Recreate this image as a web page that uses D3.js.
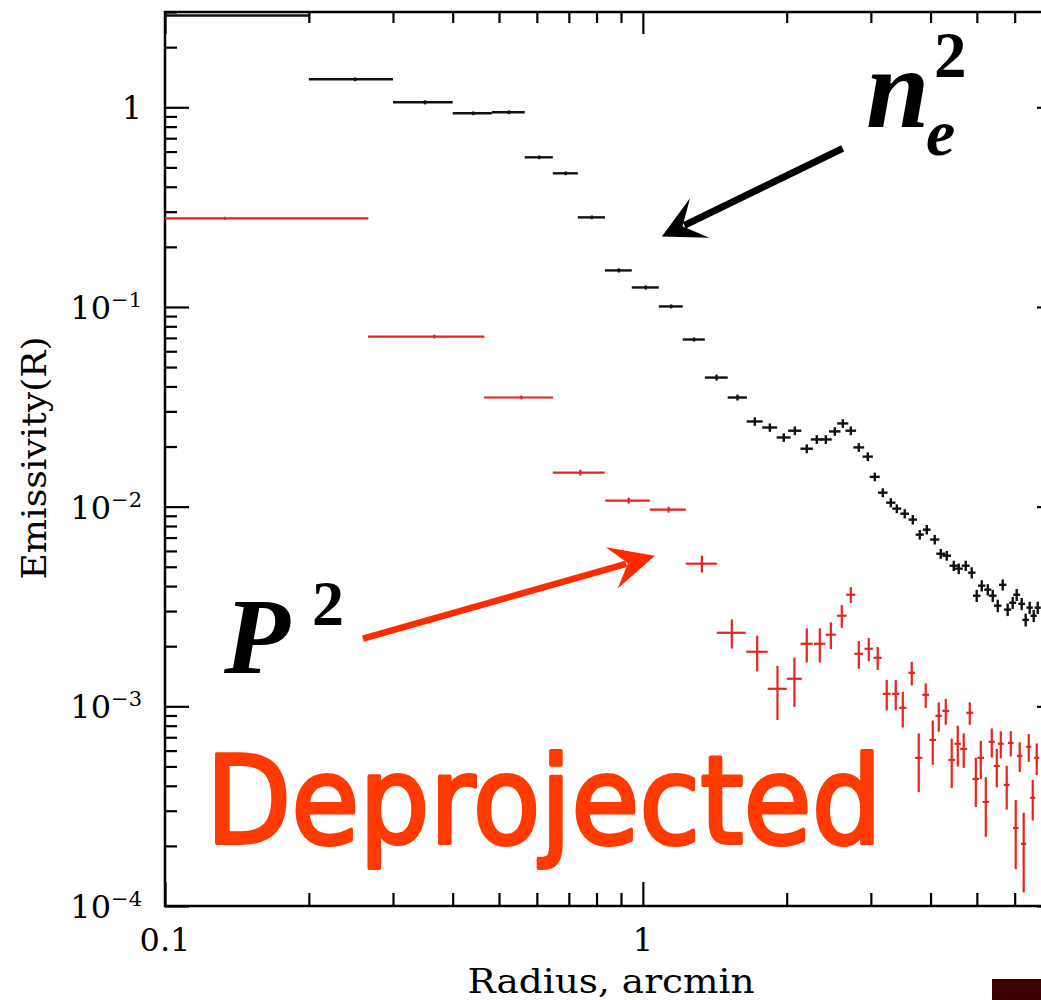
<!DOCTYPE html>
<html>
<head>
<meta charset="utf-8">
<script src="https://cdn.jsdelivr.net/npm/d3@7"></script>
<style>
  body { margin: 0; background: #fff; }
  svg { display: block; }
</style>
</head>
<body>
<svg id="chart" width="1041" height="1000"></svg>
<script>
// ---- data (radius in arcmin, emissivity) ----
// n_e^2 profile (black)
const blackX = [0.1, 0.25, 0.35, 0.4415, 0.5245, 0.607, 0.6895, 0.782, 0.8905, 1.014, 1.146, 1.28, 1.4265, 1.578,
  1.715, 1.844, 1.972, 2.080, 2.203, 2.312, 2.415, 2.522, 2.621, 2.724,
  2.831, 2.956, 3.058, 3.178, 3.303, 3.400, 3.532, 3.672, 3.798, 3.928,
  4.082, 4.202, 4.325, 4.473, 4.582, 4.739, 4.878, 4.997, 5.119, 5.270,
  5.398, 5.530, 5.664, 5.800, 5.943, 6.058, 6.206, 6.326, 6.449, 6.576, 6.704];
const blackXErr = [0.1, 0.05, 0.05, 0.0415, 0.0415, 0.041, 0.0415, 0.051, 0.0575, 0.066, 0.066, 0.068, 0.0785, 0.073,
  0.066, 0.066, 0.066, 0.066, 0.066, 0.066, 0.07, 0.07, 0.07, 0.07,
  0.074, 0.074, 0.074, 0.074, 0.074, 0.074, 0.074, 0.074, 0.074, 0.074,
  0.09, 0.09, 0.09, 0.09, 0.09, 0.09, 0.09, 0.09, 0.09, 0.09,
  0.1, 0.1, 0.1, 0.1, 0.1, 0.1, 0.1, 0.1, 0.1, 0.1, 0.1];
const blackY = [2.88, 1.381, 1.059, 0.933, 0.944, 0.5616, 0.467, 0.281, 0.1524, 0.1252, 0.1006, 0.0687, 0.0443, 0.0352,
  0.0267, 0.0249, 0.0222, 0.0240, 0.0195, 0.0217, 0.0217, 0.0238, 0.0261, 0.0240,
  0.0198, 0.0178, 0.0141, 0.01175, 0.01047, 0.00977, 0.00922, 0.00861, 0.00724, 0.00767,
  0.00684, 0.00581, 0.00568, 0.00506, 0.00489, 0.00506, 0.00467, 0.00358, 0.00402, 0.00384,
  0.00358, 0.00319, 0.00406, 0.00305, 0.00330, 0.00362, 0.00326, 0.00271, 0.00312, 0.00284, 0.00312];
const blackYErr = [0.06, 0.03, 0.025, 0.02, 0.02, 0.012, 0.01, 0.006, 0.0035, 0.003, 0.0023, 0.0016, 0.0015, 0.0012,
  0.0013, 0.0012, 0.0011, 0.0012, 0.0010, 0.0011, 0.0011, 0.0012, 0.0013, 0.0012,
  0.0010, 0.0009, 0.0007, 0.0006, 0.00055, 0.0005, 0.0005, 0.00047, 0.0004, 0.00042,
  0.00038, 0.00033, 0.00032, 0.0003, 0.0003, 0.0003, 0.0003, 0.00025, 0.00026, 0.00025,
  0.00025, 0.00023, 0.00026, 0.00022, 0.00023, 0.00025, 0.00023, 0.0002, 0.00022, 0.0002, 0.00022];

// P^2 profile (red)
const redX = [0.1335, 0.366, 0.557, 0.74, 0.934, 1.132, 1.329, 1.535, 1.735, 1.913,
  2.076, 2.203, 2.346, 2.474, 2.608, 2.724, 2.831, 2.970, 3.101, 3.239,
  3.383, 3.499, 3.654, 3.779, 3.908, 4.043, 4.161, 4.304, 4.430, 4.560,
  4.693, 4.832, 4.975, 5.096, 5.220, 5.373, 5.504, 5.611, 5.774, 5.887,
  6.030, 6.147, 6.266, 6.420, 6.545, 6.672];
const redXErr = [0.133, 0.1, 0.092, 0.092, 0.1, 0.098, 0.099, 0.107, 0.09, 0.088,
  0.075, 0.065, 0.065, 0.06, 0.06, 0.06, 0.06, 0.06, 0.06, 0.06,
  0.06, 0.06, 0.06, 0.065, 0.065, 0.065, 0.065, 0.07, 0.07, 0.07,
  0.08, 0.08, 0.08, 0.08, 0.08, 0.08, 0.08, 0.08, 0.08, 0.08,
  0.08, 0.08, 0.08, 0.08, 0.08, 0.08];
const redY = [0.2778, 0.0711, 0.0352, 0.01481, 0.01072, 0.00966, 0.00518, 0.002335, 0.001876, 0.001224,
  0.001374, 0.002057, 0.002057, 0.002283, 0.002842, 0.003622, 0.001833, 0.001942, 0.00175, 0.001155,
  0.001155, 0.000983, 0.001472, 0.000552, 0.001142, 0.000679, 0.000896, 0.000949, 0.000539, 0.000649,
  0.000612, 0.000928, 0.000433, 0.000552, 0.000332, 0.000664, 0.000503, 0.000649, 0.000404, 0.000656,
  0.000246, 0.000565, 0.000205, 0.000627, 0.000348, 0.000552];
const redYErr = [0.005, 0.0016, 0.0008, 0.0005, 0.00037, 0.00033, 0.0005, 0.00039, 0.00038, 0.00037,
  0.00038, 0.0004, 0.0004, 0.00035, 0.00037, 0.00033, 0.00029, 0.00026, 0.00023, 0.0002,
  0.0002, 0.0002, 0.0002, 0.00018, 0.00016, 0.00017, 0.00015, 0.00014, 0.00015, 0.00015,
  0.00012, 0.00012, 0.00012, 0.00012, 0.00011, 0.00011, 0.00011, 0.0001, 0.0001, 0.000095,
  0.000093, 0.000096, 0.000088, 0.0001, 0.00008, 0.0001];

// axes
const xDomain = [0.1, 7.5];
const yDomain = [1e-4, 3];
const xMajorTicks = [0.1, 1];
const xTickLabels = ['0.1', '1'];
const xMinorTicks = [0.2, 0.3, 0.4, 0.5, 0.6, 0.7, 0.8, 0.9, 2, 3, 4, 5, 6, 7];
const yMajorTicks = [1e-4, 1e-3, 1e-2, 1e-1, 1];
const yTickLabels = [['10', '\u22124'], ['10', '\u22123'], ['10', '\u22122'], ['10', '\u22121'], ['1', '']];
const yMinorTicks = yMajorTicks.flatMap(d => [2, 3, 4, 5, 6, 7, 8, 9].map(m => +(m * d).toPrecision(3)))
  .filter(v => v <= yDomain[1]);

// annotation arrows, in data coordinates
const arrowBlack = { from: [2.62, 0.623], to: [1.096, 0.2256] };
const arrowRed = { from: [0.2596, 0.00218], to: [1.06, 0.00568] };

// ---------------- chart ----------------
const plot = { left: 165, top: 12, right: 1061, bottom: 906 };
const x = d3.scaleLog().domain(xDomain).range([plot.left, plot.right]);
const y = d3.scaleLog().domain(yDomain).range([plot.bottom, plot.top]);

const svg = d3.select('#chart');
const serif = '"DejaVu Serif", "Liberation Serif", serif';
const times = '"Liberation Serif", "Times New Roman", serif';

svg.append('defs').append('clipPath').attr('id', 'plotclip')
  .append('rect')
  .attr('x', plot.left).attr('y', plot.top)
  .attr('width', plot.right - plot.left).attr('height', plot.bottom - plot.top);

// ticks (d3 axes, labels drawn separately)
function ticks(axis, transform) {
  svg.append('g').attr('transform', transform).call(axis)
    .call(g => {
      g.select('.domain').remove();
      g.selectAll('text').remove();
      g.selectAll('line').attr('stroke', '#000').attr('stroke-width', 2.2);
    });
}
ticks(d3.axisLeft(y).tickValues(yMajorTicks).tickSize(-24).tickFormat(''), `translate(${plot.left},0)`);
ticks(d3.axisLeft(y).tickValues(yMinorTicks).tickSize(-12).tickFormat(''), `translate(${plot.left},0)`);
ticks(d3.axisRight(y).tickValues(yMajorTicks).tickSize(-24).tickFormat(''), `translate(${plot.right},0)`);
ticks(d3.axisRight(y).tickValues(yMinorTicks).tickSize(-12).tickFormat(''), `translate(${plot.right},0)`);
ticks(d3.axisBottom(x).tickValues(xMajorTicks).tickSize(-24).tickFormat(''), `translate(0,${plot.bottom})`);
ticks(d3.axisBottom(x).tickValues(xMinorTicks).tickSize(-13).tickFormat(''), `translate(0,${plot.bottom})`);
ticks(d3.axisTop(x).tickValues(xMajorTicks).tickSize(-22).tickFormat(''), `translate(0,${plot.top})`);
ticks(d3.axisTop(x).tickValues(xMinorTicks).tickSize(-11).tickFormat(''), `translate(0,${plot.top})`);

// frame
svg.append('rect')
  .attr('x', plot.left).attr('y', plot.top)
  .attr('width', plot.right - plot.left).attr('height', plot.bottom - plot.top)
  .attr('fill', 'none').attr('stroke', '#000').attr('stroke-width', 2.5);

// tick labels
svg.append('g').selectAll('text')
  .data(yMajorTicks)
  .join('text')
  .attr('x', 142)
  .attr('y', d => y(d) + 12)
  .attr('text-anchor', 'end')
  .attr('font-family', serif)
  .attr('font-size', 32)
  .each(function(d, i) {
    const t = d3.select(this);
    t.append('tspan').text(yTickLabels[i][0]);
    if (yTickLabels[i][1]) {
      t.append('tspan').attr('font-size', 21).attr('dy', -12).text(yTickLabels[i][1]);
    }
  });

svg.append('g').selectAll('text')
  .data(xMajorTicks)
  .join('text')
  .attr('x', d => x(d))
  .attr('y', 951)
  .attr('text-anchor', 'middle')
  .attr('font-family', serif)
  .attr('font-size', 32)
  .text((d, i) => xTickLabels[i]);

// axis titles
svg.append('text')
  .attr('x', 611).attr('y', 993)
  .attr('text-anchor', 'middle')
  .attr('font-family', serif).attr('font-size', 33)
  .attr('textLength', 287).attr('lengthAdjust', 'spacingAndGlyphs')
  .text('Radius, arcmin');

svg.append('text')
  .attr('transform', 'translate(46,458) rotate(-90)')
  .attr('text-anchor', 'middle')
  .attr('font-family', serif).attr('font-size', 33)
  .attr('textLength', 243).attr('lengthAdjust', 'spacingAndGlyphs')
  .text('Emissivity(R)');

// data: error-bar crosses
const dataLayer = svg.append('g').attr('clip-path', 'url(#plotclip)');

function drawSeries(xs, xe, ys, ye, color, width) {
  const pts = xs.map((v, i) => ({ x: v, xe: xe[i], y: ys[i], ye: ye[i] }));
  const g = dataLayer.append('g').attr('stroke', color).attr('stroke-width', width);
  g.selectAll('line.h').data(pts).join('line').attr('class', 'h')
    .attr('x1', d => x(Math.max(d.x - d.xe, xDomain[0] * 0.9)))
    .attr('x2', d => x(d.x + d.xe))
    .attr('y1', d => y(d.y)).attr('y2', d => y(d.y));
  g.selectAll('line.v').data(pts).join('line').attr('class', 'v')
    .attr('x1', d => x(d.x)).attr('x2', d => x(d.x))
    .attr('y1', d => y(d.y - d.ye)).attr('y2', d => y(d.y + d.ye));
}
drawSeries(redX, redXErr, redY, redYErr, '#e8231a', 2.2);
drawSeries(blackX, blackXErr, blackY, blackYErr, '#111', 2.4);

// arrows
function arrow(a, color, shaft, headLen, headHalf, notch) {
  const s = [x(a.from[0]), y(a.from[1])];
  const t = [x(a.to[0]), y(a.to[1])];
  const len = Math.hypot(t[0] - s[0], t[1] - s[1]);
  const u = [(t[0] - s[0]) / len, (t[1] - s[1]) / len];
  const p = [-u[1], u[0]];
  const at = (back, side) => [t[0] - u[0] * back + p[0] * side, t[1] - u[1] * back + p[1] * side];
  const e = at(notch + 2, 0);
  svg.append('line')
    .attr('x1', s[0]).attr('y1', s[1]).attr('x2', e[0]).attr('y2', e[1])
    .attr('stroke', color).attr('stroke-width', shaft);
  svg.append('path')
    .attr('d', d3.line()([t, at(headLen, headHalf), at(notch, 0), at(headLen, -headHalf)]) + 'Z')
    .attr('fill', color);
}
arrow(arrowBlack, '#000', 7, 42, 22, 23);
arrow(arrowRed, '#ff2a00', 6.5, 45, 21.5, 28);

// labels
svg.append('text').attr('x', 866).attr('y', 127)
  .attr('font-family', times).attr('font-weight', 'bold').attr('font-style', 'italic')
  .attr('font-size', 114).text('n');
svg.append('text').attr('x', 926).attr('y', 155)
  .attr('font-family', times).attr('font-weight', 'bold').attr('font-style', 'italic')
  .attr('font-size', 66).text('e');
svg.append('text').attr('x', 934).attr('y', 77)
  .attr('font-family', times).attr('font-weight', 'bold')
  .attr('font-size', 65).text('2');

svg.append('text').attr('x', 224).attr('y', 673)
  .attr('font-family', times).attr('font-weight', 'bold').attr('font-style', 'italic')
  .attr('font-size', 108).text('P');
svg.append('text').attr('x', 312).attr('y', 625)
  .attr('font-family', times).attr('font-weight', 'bold')
  .attr('font-size', 64).text('2');

svg.append('text').attr('x', 206).attr('y', 843)
  .attr('font-family', '"Comic Sans MS", "DejaVu Sans", sans-serif')
  .attr('font-size', 122)
  .attr('textLength', 676).attr('lengthAdjust', 'spacingAndGlyphs')
  .attr('fill', '#ff3a00').attr('stroke', '#ff3a00').attr('stroke-width', 4)
  .attr('stroke-linejoin', 'round').attr('stroke-linecap', 'round')
  .text('Deprojected');

// dark patch in the lower right corner of the slide
svg.append('rect').attr('x', 992).attr('y', 979).attr('width', 49).attr('height', 21).attr('fill', '#3d0000');
</script>
</body>
</html>
